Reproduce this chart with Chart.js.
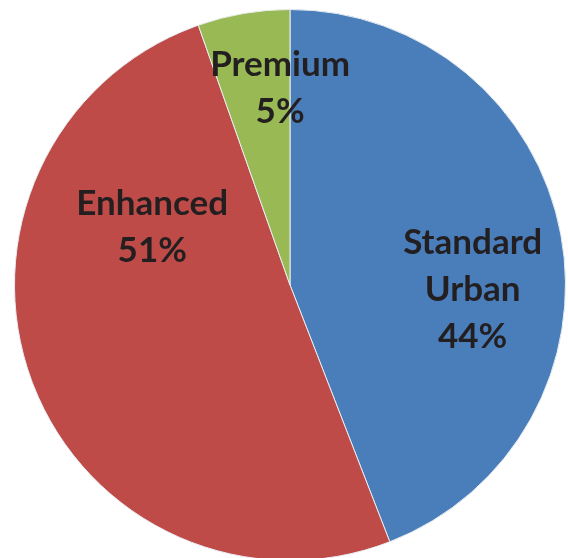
<!DOCTYPE html>
<html>
<head>
<meta charset="utf-8">
<script src="https://cdn.jsdelivr.net/npm/chart.js@4/dist/chart.umd.min.js"></script>
<style>
  html, body { margin: 0; padding: 0; background: #fff; overflow: hidden; }
  .wrap { position: relative; width: 568px; height: 574px; }
</style>
</head>
<body>
<div class="wrap"><canvas id="pieChart"></canvas></div>
<script>
const categories = ['Standard Urban', 'Enhanced', 'Premium'];
const labelLines = [['Standard', 'Urban'], ['Enhanced'], ['Premium']];
const shares = [44.1, 50.5, 5.4];
const sliceColors = ['#4A7EBB', '#BE4B48', '#98B954'];

// where each label sits, as a fraction of the pie radius from its centre
const labelOffsets = [[0.663, 0.018], [-0.5, -0.208], [-0.036, -0.716]];

const pieLabels = {
    id: 'pieLabels',
    afterDatasetsDraw(chart) {
        const ctx = chart.ctx;
        const meta = chart.getDatasetMeta(0);
        ctx.save();
        ctx.font = 'bold 35px Lato';
        ctx.fillStyle = '#231F20';
        ctx.textAlign = 'center';
        ctx.textBaseline = 'middle';
        const lineH = 47;
        meta.data.forEach((arc, i) => {
            const r = arc.outerRadius;
            const cx = arc.x + labelOffsets[i][0] * r;
            const cy = arc.y + labelOffsets[i][1] * r;
            const lines = labelLines[i].concat([Math.round(shares[i]) + '%']);
            const top = cy - (lines.length - 1) * lineH / 2;
            lines.forEach((t, k) => ctx.fillText(t, cx, top + k * lineH));
        });
        ctx.restore();
    }
};

const ctx = document.getElementById('pieChart').getContext('2d');

new Chart(ctx, {
    type: 'pie',
    data: {
        labels: categories,
        datasets: [{
            data: shares,
            backgroundColor: sliceColors,
            borderColor: '#E8ECF0',
            borderWidth: 1
        }]
    },
    options: {
        responsive: true,
        maintainAspectRatio: false,
        animation: false,
        layout: { padding: { left: 14, right: 2, top: 9, bottom: 13 } },
        plugins: {
            legend: { display: false },
            tooltip: { enabled: false }
        }
    },
    plugins: [pieLabels]
});
</script>
</body>
</html>
